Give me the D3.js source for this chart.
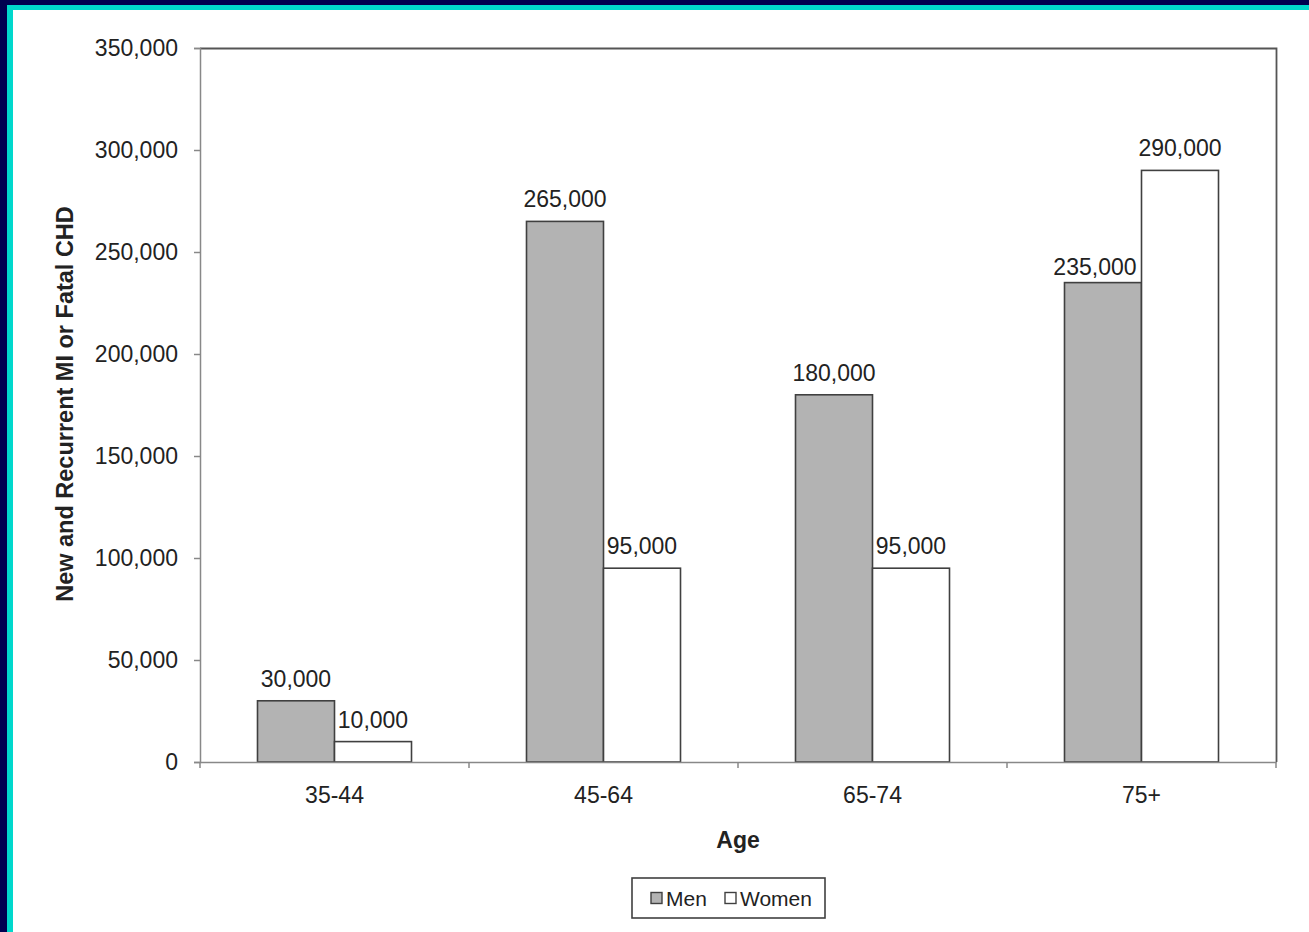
<!DOCTYPE html>
<html>
<head>
<meta charset="utf-8">
<script src="https://cdn.jsdelivr.net/npm/d3@7/dist/d3.min.js"></script>
<style>
  html, body { margin: 0; padding: 0; background: #fff; }
  svg { display: block; }
  text { font-family: "Liberation Sans", Arial, sans-serif; fill: #222; }
</style>
</head>
<body>
<script>
// Age groups and yearly counts of new and recurrent MI or fatal CHD
const ageGroups = ["35-44", "45-64", "65-74", "75+"];
const seriesNames = ["Men", "Women"];
const menValues = [30000, 265000, 180000, 235000];
const womenValues = [10000, 95000, 95000, 290000];
const yTickValues = [0, 50000, 100000, 150000, 200000, 250000, 300000, 350000];

const W = 1309, H = 932;
const svg = d3.select("body").append("svg").attr("width", W).attr("height", H);

// page background with the two-tone frame along top and left
svg.append("rect").attr("width", W).attr("height", H).attr("fill", "#ffffff");
svg.append("rect").attr("x", 0).attr("y", 0).attr("width", W).attr("height", 10).attr("fill", "#00d8cc");
svg.append("rect").attr("x", 0).attr("y", 0).attr("width", 13).attr("height", H).attr("fill", "#00d8cc");
svg.append("rect").attr("x", 0).attr("y", 0).attr("width", W).attr("height", 5).attr("fill", "#000050");
svg.append("rect").attr("x", 0).attr("y", 0).attr("width", 7).attr("height", H).attr("fill", "#000050");

const plot = { left: 200, right: 1276, top: 48, bottom: 762 };
const FONT = "'Liberation Sans', Arial, sans-serif";

const x0 = d3.scaleBand()
  .domain(ageGroups)
  .range([plot.left, plot.right])
  .paddingInner(0.4275)
  .paddingOuter(0.21375);
const x1 = d3.scaleBand()
  .domain(seriesNames)
  .range([0, x0.bandwidth()]);
const y = d3.scaleLinear().domain([0, 350000]).range([plot.bottom, plot.top]);

const rows = ageGroups.map((g, i) => ({ group: g, values: [
  { key: "Men", value: menValues[i], next: womenValues[i] },
  { key: "Women", value: womenValues[i], next: null }
]}));
const fills = { Men: "#b3b3b3", Women: "#ffffff" };
const fmt = d3.format(",");

// plot frame: top and right edges
svg.append("path")
  .attr("d", `M${plot.left},${plot.top + 0.5}H${plot.right + 0.5}V${plot.bottom}`)
  .attr("fill", "none").attr("stroke", "#555").attr("stroke-width", 1.8);

// bars
const groups = svg.append("g").selectAll("g").data(rows).join("g")
  .attr("transform", d => `translate(${x0(d.group)},0)`);
groups.selectAll("rect").data(d => d.values).join("rect")
  .attr("x", d => x1(d.key))
  .attr("y", d => y(d.value))
  .attr("width", x1.bandwidth())
  .attr("height", d => y(0) - y(d.value))
  .attr("fill", d => fills[d.key])
  .attr("stroke", "#404040")
  .attr("stroke-width", 1.6);

// value labels; a label hemmed in by a taller neighbouring bar is
// pulled left against that bar and sits lower
const blocked = d => d.next !== null && d.next > d.value;
groups.selectAll("text").data(d => d.values).join("text")
  .attr("x", d => blocked(d)
    ? x1(d.key) + x1.bandwidth() - 5
    : x1(d.key) + x1.bandwidth() / 2)
  .attr("y", d => y(d.value) - (blocked(d) ? 8 : 14))
  .attr("text-anchor", d => blocked(d) ? "end" : "middle")
  .style("font-size", "23px")
  .text(d => fmt(d.value));

// y axis
const yAxis = svg.append("g")
  .attr("transform", `translate(${plot.left},0)`)
  .call(d3.axisLeft(y).tickValues(yTickValues).tickFormat(fmt).tickSize(6).tickPadding(16));
yAxis.select(".domain").attr("stroke", "#888").attr("stroke-width", 1.5);
yAxis.selectAll(".tick line").attr("stroke", "#888").attr("stroke-width", 1.5);
yAxis.selectAll(".tick text").style("font-size", "23px").attr("fill", "#222")
  .style("font-family", FONT);

// x axis with ticks on category boundaries
const xAxis = svg.append("g")
  .attr("transform", `translate(0,${plot.bottom})`)
  .call(d3.axisBottom(x0).tickSize(0).tickPadding(25));
xAxis.select(".domain").attr("stroke", "#888").attr("stroke-width", 1.5);
xAxis.selectAll(".tick text").style("font-size", "23px").attr("fill", "#222")
  .style("font-family", FONT);
const step = x0.step();
const bounds = d3.range(ageGroups.length + 1).map(i => plot.left + i * step);
xAxis.selectAll("line.bound").data(bounds).join("line")
  .attr("class", "bound")
  .attr("x1", d => d).attr("x2", d => d)
  .attr("y1", 0).attr("y2", 6)
  .attr("stroke", "#888").attr("stroke-width", 1.5);

// axis titles
svg.append("text")
  .attr("x", (plot.left + plot.right) / 2)
  .attr("y", 848)
  .attr("text-anchor", "middle")
  .style("font-size", "23px").style("font-weight", "bold")
  .text("Age");
svg.append("text")
  .attr("transform", `translate(73,${(plot.top + plot.bottom) / 2 - 1}) rotate(-90)`)
  .attr("text-anchor", "middle")
  .style("font-size", "23.5px").style("font-weight", "bold")
  .text("New and Recurrent MI or Fatal CHD");

// legend
const legend = svg.append("g").attr("transform", "translate(632,878)");
legend.append("rect").attr("width", 193).attr("height", 40)
  .attr("fill", "#fff").attr("stroke", "#404040").attr("stroke-width", 1.6);
const legendX = [19, 93];
seriesNames.forEach((name, i) => {
  legend.append("rect")
    .attr("x", legendX[i]).attr("y", 14.5)
    .attr("width", 11).attr("height", 11)
    .attr("fill", fills[name]).attr("stroke", "#404040").attr("stroke-width", 1.4);
  legend.append("text")
    .attr("x", legendX[i] + 15).attr("y", 27.5)
    .style("font-size", "21px")
    .text(name);
});
</script>
</body>
</html>
